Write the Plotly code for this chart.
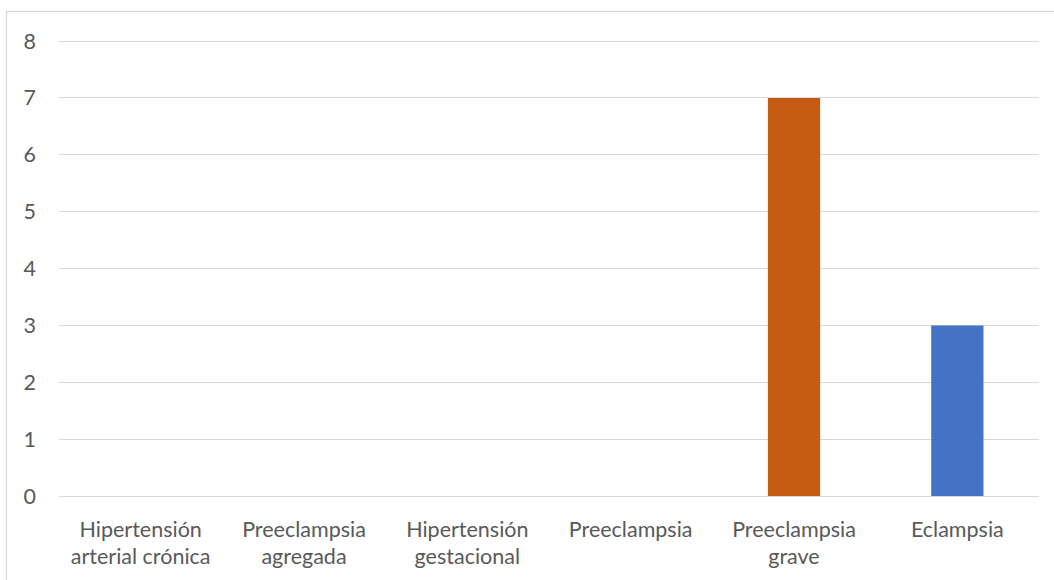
import plotly.graph_objects as go

categories = [
    "Hipertensión<br>arterial crónica",
    "Preeclampsia<br>agregada",
    "Hipertensión<br>gestacional",
    "Preeclampsia",
    "Preeclampsia<br>grave",
    "Eclampsia",
]
values = [0, 0, 0, 0, 7, 3]
bar_colors = ["#C55A11", "#C55A11", "#C55A11", "#C55A11", "#C55A11", "#4472C4"]
y_ticks = [0, 1, 2, 3, 4, 5, 6, 7, 8]

W, H = 1054, 580
L, R, T, B = 59, 15, 40, 84

fig = go.Figure(
    go.Bar(
        x=categories,
        y=values,
        marker=dict(color=bar_colors, line=dict(width=0)),
        width=0.32,
        hoverinfo="x+y",
    )
)

text_font = dict(family="Lato, 'Open Sans', sans-serif", size=21.5, color="#595959")

fig.update_layout(
    width=W,
    height=H,
    margin=dict(l=L, r=R, t=T, b=B),
    paper_bgcolor="white",
    plot_bgcolor="white",
    showlegend=False,
    xaxis=dict(
        showgrid=False,
        showline=False,
        zeroline=False,
        ticks="",
        tickfont=text_font,
        tickangle=0,
        ticklabelstandoff=18,
        automargin=False,
    ),
    yaxis=dict(
        range=[0, 8.018],
        tickvals=y_ticks,
        showgrid=True,
        gridcolor="#D9D9D9",
        gridwidth=1.3,
        zeroline=True,
        zerolinecolor="#D9D9D9",
        zerolinewidth=1.3,
        showline=False,
        ticks="",
        ticklabelstandoff=22,
        tickfont=text_font,
        automargin=False,
    ),
)

# chart-area frame (open at the right and bottom edges of the page)
pw, ph = W - L - R, H - T - B
fig.add_shape(
    type="rect",
    xref="paper", yref="paper",
    x0=(6.5 - L) / pw, x1=(W + 5 - L) / pw,
    y0=-(H + 5 - T - ph) / ph, y1=(H - 11.5 - B) / ph,
    line=dict(color="#D9D9D9", width=1.3),
    fillcolor="rgba(0,0,0,0)",
    layer="below",
)

fig.write_html("out.html")
